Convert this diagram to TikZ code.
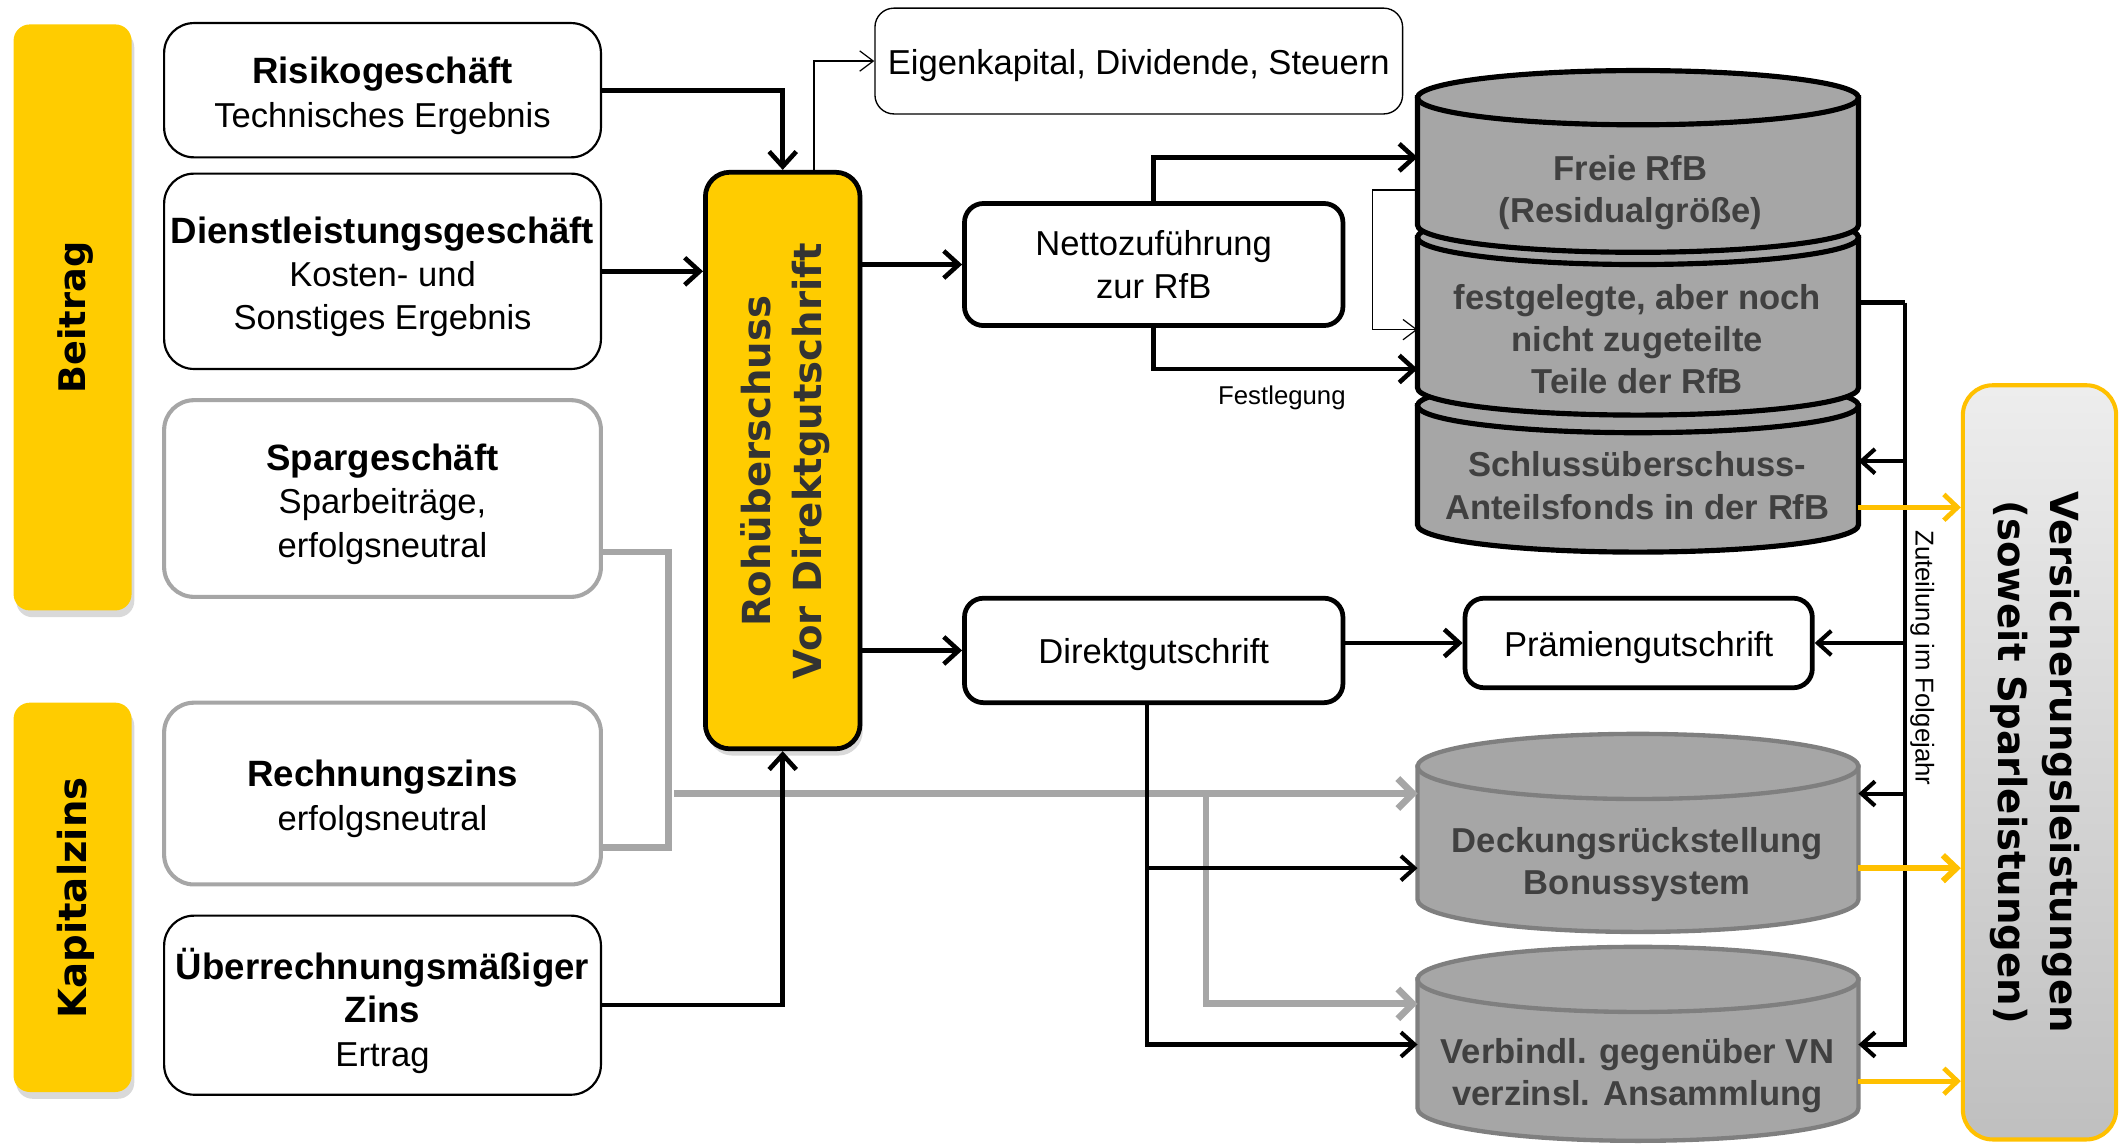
\documentclass[tikz,border=0pt]{standalone}
\usepackage{fontspec}
\setmainfont{Liberation Sans}
\newfontfamily\wide{DejaVu Sans}
\usetikzlibrary{arrows.meta,shadows,calc}

\definecolor{ygold}{HTML}{FFCC00}
\definecolor{yarrow}{HTML}{FFC000}
\definecolor{cylgray}{HTML}{A6A6A6}
\definecolor{linegray}{HTML}{A6A6A6}
\definecolor{rimgray}{HTML}{7F7F7F}
\definecolor{txtgray}{HTML}{404040}
\definecolor{txtdark}{HTML}{333333}

% bold heading line inside a source box
\newcommand{\ttl}[1]{{\fontsize{27}{32}\selectfont\bfseries #1}}

% drum (cylinder) drawn from explicit points:
% #1 left x, #2 right x, #3 top centre y, #4 bottom centre y, #5 half height of ellipse, #6 style
\newcommand{\drum}[6]{%
  \pgfmathsetmacro{\dcx}{(#1+#2)/2}%
  \pgfmathsetmacro{\drx}{(#2-#1)/2}%
  \pgfmathsetmacro{\dkx}{0.5523*\drx}%
  \pgfmathsetmacro{\dky}{0.5523*#5}%
  \path[#6] (#1,#3) -- (#1,#4)
     .. controls (#1,{#4+\dky}) and ({\dcx-\dkx},{#4+#5}) .. (\dcx,{#4+#5})
     .. controls ({\dcx+\dkx},{#4+#5}) and (#2,{#4+\dky}) .. (#2,#4)
     -- (#2,#3) -- cycle;
  \path[#6] (\dcx,#3) ellipse [x radius=\drx pt, y radius=#5 pt];
}

\tikzset{
  every node/.style={font=\fontsize{25.5}{32}\selectfont, inner sep=0pt},
  every label/.style={inner sep=0pt},
  inner/.style={align=center, yshift=-4pt},
  bar/.style={fill=ygold, rounded corners=12pt,
    drop shadow={shadow xshift=2pt, shadow yshift=-5pt, opacity=0.3}},
  srcbox/.style={draw=black, line width=1.6pt, fill=white, rounded corners=22pt, align=center},
  greybox/.style={draw=linegray, line width=3pt, fill=white, rounded corners=22pt, align=center},
  flowbox/.style={draw=black, line width=3.5pt, fill=white, rounded corners=14pt, align=center},
  thinbox/.style={draw=black, line width=1pt, fill=white, rounded corners=14pt, align=center},
  wideword/.style={font=\wide\bfseries\fontsize{28.5}{38}\selectfont, align=center},
  cyltxt/.style={font=\fontsize{25.5}{31}\selectfont\bfseries, text=txtgray, align=center},
  topdrum/.style={fill=cylgray, draw=black, line width=3.8pt},
  lowdrum/.style={fill=cylgray, draw=rimgray, line width=3.2pt},
  thk/.style={draw=black, line width=3.4pt, -{Straight Barb[length=11pt,width=20pt]}},
  med/.style={draw=black, line width=3pt, -{Straight Barb[length=10pt,width=18pt]}},
  fine/.style={draw=black, line width=0.9pt, -{Straight Barb[length=10pt,width=15pt]}},
  gline/.style={draw=linegray, line width=5pt},
  garr/.style={gline, -{Straight Barb[length=11pt,width=22pt]}},
  yarr/.style={draw=yarrow, line width=3.5pt, -{Straight Barb[length=10pt,width=19pt]}},
}

\begin{document}
\begin{tikzpicture}[x=1pt, y=-1pt]
\useasboundingbox (0,0) rectangle (1568,843);

% ---- left category bars
\node[bar, minimum width=87pt, minimum height=432pt] (beitrag) at (53.5,234) {};
\node[wideword, font=\wide\bfseries\fontsize{27}{38}\selectfont, rotate=90] (beitragtxt) at (56,234) {Beitrag};
\node[bar, minimum width=87pt, minimum height=287pt] (kapital) at (53.5,661.5) {};
\node[wideword, rotate=90] (kapitaltxt) at (56,662) {Kapitalzins};

% ---- sources
\node[srcbox, minimum width=322pt, minimum height=99pt,
  label={[inner]center:{\ttl{Risikogeschäft}\\Technisches Ergebnis}}] (risiko) at (282,66.5) {};
\node[srcbox, minimum width=322pt, minimum height=144pt,
  label={[inner]center:{\ttl{Dienstleistungsgeschäft}\\Kosten- und\\Sonstiges Ergebnis}}] (dienst) at (282,200) {};
\node[greybox, minimum width=322pt, minimum height=145pt,
  label={[inner]center:{\ttl{Spargeschäft}\\Sparbeiträge,\\erfolgsneutral}}] (spar) at (282,367.5) {};
\node[greybox, minimum width=322pt, minimum height=134pt,
  label={[inner]center:{\ttl{Rechnungszins}\\erfolgsneutral}}] (rechnung) at (282,585) {};
\node[srcbox, minimum width=322pt, minimum height=132pt,
  label={[inner]center:{\ttl{Überrechnungsmäßiger}\\\ttl{Zins}\\Ertrag}}] (ueber) at (282,741) {};

% ---- central surplus box
\node[fill=ygold, draw=black, line width=3.5pt, rounded corners=18pt,
  minimum width=114pt, minimum height=425pt,
  drop shadow={shadow xshift=2pt, shadow yshift=-5pt, opacity=0.3}] (central) at (577,339.5) {};
\node[wideword, rotate=90, text=txtdark] (centraltxt) at (579,340) {Rohüberschuss\\Vor Direktgutschrift};

% ---- flow boxes
\node[thinbox, minimum width=389pt, minimum height=78pt,
  label={[inner, yshift=1pt]center:{Eigenkapital, Dividende, Steuern}}] (eigen) at (839.5,45) {};
\node[flowbox, minimum width=279pt, minimum height=90pt] (netto) at (850.5,195) {Nettozuführung\\zur RfB};
\node[flowbox, minimum width=279pt, minimum height=77pt,
  label={[inner, yshift=1pt]center:{Direktgutschrift}}] (direkt) at (850.5,479.5) {};
\node[flowbox, minimum width=256pt, minimum height=66pt,
  label={[inner, yshift=1pt]center:{Prämiengutschrift}}] (praemie) at (1208,474) {};

% ---- drums: RfB stack (lowest first) and the two lower ones
\drum{1045}{1370}{299}{387}{20}{topdrum}
\drum{1045}{1370}{175}{286}{20}{topdrum}
\drum{1045}{1370}{72}{166}{20}{topdrum}
\drum{1045}{1370}{565}{663}{24}{lowdrum}
\drum{1045}{1370}{722}{817}{24}{lowdrum}

\node[cyltxt] (freie) at (1202,142) {Freie RfB\\(Residualgröße)};
\node[cyltxt] (festg) at (1207,250) {festgelegte, aber noch\\nicht zugeteilte\\Teile der RfB};
\node[cyltxt] (schluss) at (1207,358) {Schlussüberschuss-\\Anteilsfonds in der RfB};
\node[cyltxt] (deckung) at (1207,637) {Deckungsrückstellung\\Bonussystem};
\node[cyltxt] (verbindl) at (1207,793) {Verbindl. gegenüber VN\\verzinsl. Ansammlung};

% ---- benefits box
\node[draw=yarrow, line width=3pt, rounded corners=22pt, top color=black!7, bottom color=black!25,
  minimum width=113pt, minimum height=556pt] (leist) at (1503.5,562) {};
\node[wideword, rotate=-90] (leisttxt) at (1500,562) {Versicherungsleistungen\\(soweit Sparleistungen)};

% ---- ports on the drums
\coordinate (c1in) at (1045,116);
\coordinate (c1loop) at (1045,140);
\coordinate (c2loop) at (1045,243);
\coordinate (c2in) at (1045,272);
\coordinate (c2out) at (1370,223);
\coordinate (c3in) at (1370,340);
\coordinate (c3out) at (1370,374);
\coordinate (dAgray) at (1045,585);
\coordinate (dAblk) at (1045,640);
\coordinate (dAin) at (1370,585);
\coordinate (dAout) at (1370,640);
\coordinate (dBgray) at (1045,740);
\coordinate (dBblk) at (1045,770);
\coordinate (dBin) at (1370,770);
\coordinate (dBout) at (1370,797);

% ---- grey (neutral) savings flow
\coordinate (sparout) at (443,407);
\coordinate (rzout) at (443,625);
\coordinate (gbend) at (493,407);
\coordinate (gstart) at (497,585);
\coordinate (gsplit) at (889,585);
\draw[gline] (sparout) -- (gbend) |- (rzout);
\draw[garr] (gstart) -- (dAgray);
\draw[garr] (gsplit) |- (dBgray);

% ---- inputs to the surplus
\draw[thk] (risiko.east) -| (central.north);
\draw[thk] (dienst.east) -- (dienst.east -| central.west);
\draw[thk] (ueber.east) -| (central.south);
\draw[fine] ([xshift=23pt]central.north) |- (eigen.west);

% ---- surplus distribution
\draw[thk] (central.east |- netto.west) -- (netto.west);
\draw[thk] (central.east |- direkt.west) -- (direkt.west);
\draw[thk] (netto.north) |- (c1in);
\draw[thk] (netto.south) |- (c2in);
\node[font=\fontsize{19}{22}\selectfont] (festlegung) at (945,293) {Festlegung};
\draw[fine] (c1loop) -- ++(-33,0) |- (c2loop);

\draw[thk] (praemie.west -| direkt.east) -- (praemie.west);
\coordinate (dstem) at ([xshift=-5pt]direkt.south);
\draw[med] (dstem) |- (dBblk);
\draw[med] (dstem |- dAblk) -- (dAblk);

% ---- allocation in the following year
\coordinate (zt) at (1404,223);
\draw[line width=3pt] (c2out) -- (zt);
\draw[med] (zt) |- (dBin);
\draw[med] (zt |- c3in) -- (c3in);
\draw[med] (zt |- praemie.east) -- (praemie.east);
\draw[med] (zt |- dAin) -- (dAin);
\node[font=\fontsize{19}{22}\selectfont, rotate=-90] (zuteilung) at (1417,485) {Zuteilung im Folgejahr};

% ---- payouts
\draw[yarr] (c3out) -- (c3out -| leist.west);
\draw[yarr, line width=4.5pt] (dAout) -- (dAout -| leist.west);
\draw[yarr] (dBout) -- (dBout -| leist.west);
\end{tikzpicture}
\end{document}
